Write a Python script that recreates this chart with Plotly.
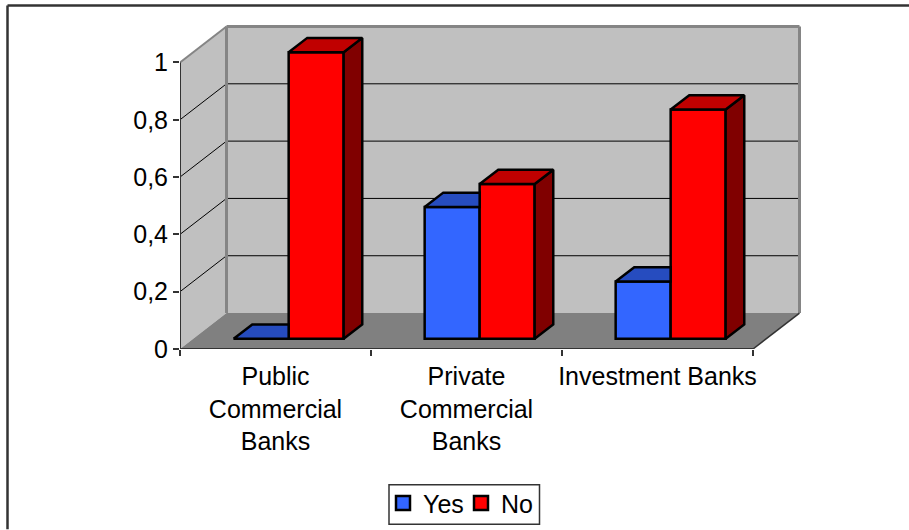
import plotly.graph_objects as go

categories = ["Public<br>Commercial<br>Banks", "Private<br>Commercial<br>Banks", "Investment Banks"]
yes_values = [0.0, 0.46, 0.2]
no_values = [1.0, 0.54, 0.8]
y_ticks = [0, 0.2, 0.4, 0.6, 0.8, 1]

W, H = 909, 530
L, R, T, B = 180, 810, 20, 349.5
PX_CAT, PX_VAL = 191.0, 287.0
DX, DY = 46.5 / PX_CAT, 36.0 / PX_VAL      # depth vector of the 3D box
D0, D1 = 0.283, 0.683                      # bar front/back position in depth
BAR_W = 55.0 / PX_CAT
N = len(categories)
FONT = "Liberation Sans, Arial, sans-serif"
FS = 25


def P(x, y, d=0.0):
    return x + d * DX, y + d * DY


def poly(pts):
    return "M" + " L".join(f"{a},{b}" for a, b in pts) + " Z"


def seg(p, q, color, width):
    return dict(type="line", x0=p[0], y0=p[1], x1=q[0], y1=q[1],
                line=dict(color=color, width=width), layer="below")


def px(xp):
    return (xp - L) / (R - L)


def py(yp):
    return (B - yp) / (B - T)


WALL, FLOOR, EDGE = "#C0C0C0", "#808080", "#858585"
shapes = [
    dict(type="path", path=poly([P(0, 0), P(0, 1), P(0, 1, 1), P(0, 0, 1)]),
         fillcolor=WALL, line_width=0, layer="below"),
    dict(type="path", path=poly([P(0, 0, 1), P(0, 1, 1), P(N, 1, 1), P(N, 0, 1)]),
         fillcolor=WALL, line_width=0, layer="below"),
    dict(type="path", path=poly([P(0, 0), P(N, 0), P(N, 0, 1), P(0, 0, 1)]),
         fillcolor=FLOOR, line_width=0, layer="below"),
]
for v in y_ticks[1:-1]:
    shapes.append(seg(P(0, v), P(0, v, 1), "#000000", 1))
    shapes.append(seg(P(0, v, 1), P(N, v, 1), "#000000", 1))
shapes += [
    seg(P(0, 0, 1), P(0, 1, 1), EDGE, 3),
    seg(P(0, 1, 1), P(N, 1, 1), EDGE, 3),
    seg(P(N, 0, 1), P(N, 1, 1), EDGE, 3),
    seg(P(0, 1), P(0, 1, 1), EDGE, 2),
]
# chart-area frame: only top and left edges are visible
frame = dict(color="#333333", width=2.5)
shapes.append(dict(type="line", xref="paper", yref="paper", x0=px(7.5), x1=px(909),
                   y0=py(5.5), y1=py(5.5), line=frame))
shapes.append(dict(type="line", xref="paper", yref="paper", x0=px(7.5), x1=px(7.5),
                   y0=py(5.5), y1=py(530), line=frame))
# legend box
shapes.append(dict(type="rect", xref="paper", yref="paper", x0=px(389), x1=px(539.5),
                   y0=py(525), y1=py(485.5), line=dict(color="#333333", width=1.5),
                   fillcolor="#FFFFFF", layer="below"))

fig = go.Figure()
centers = [i + 0.5 + D0 * DX for i in range(N)]
lift = D0 * DY
BLK = dict(color="#000000", width=2.5)

fig.add_trace(go.Bar(name="Yes", x=[c - BAR_W / 2 for c in centers], y=yes_values,
                     base=[lift] * N, width=BAR_W, showlegend=False,
                     marker=dict(color="#3366FF", line=BLK), hoverinfo="skip"))
fig.add_trace(go.Bar(name="No", x=[c + BAR_W / 2 for c in centers], y=no_values,
                     base=[lift] * N, width=BAR_W, showlegend=False,
                     marker=dict(color="#FF0000", line=BLK), hoverinfo="skip"))


def face(pts, color):
    xs = [p[0] for p in pts] + [pts[0][0]]
    ys = [p[1] for p in pts] + [pts[0][1]]
    fig.add_trace(go.Scatter(x=xs, y=ys, mode="lines", fill="toself", fillcolor=color,
                             line=dict(color="#000000", width=2.5), showlegend=False,
                             hoverinfo="skip"))


dd = D1 - D0
for c, y, n in zip(centers, yes_values, no_values):
    # Yes top, cut where the neighbouring No front hides it
    h = lift + y
    fl = (c - BAR_W, h)
    fr = (c, h)
    bl = (fl[0] + dd * DX, h + dd * DY)
    face([fl, fr, (c, bl[1]), bl], "#264CBF")
    # No side and top
    t = lift + n
    a, b = c, c + BAR_W
    face([(b, lift), (b, t), (b + dd * DX, t + dd * DY), (b + dd * DX, lift + dd * DY)], "#800000")
    face([(a, t), (b, t), (b + dd * DX, t + dd * DY), (a + dd * DX, t + dd * DY)], "#C00000")


def edge(p, q, color="#333333", width=2):
    fig.add_trace(go.Scatter(x=[p[0], q[0]], y=[p[1], q[1]], mode="lines", cliponaxis=False,
                             line=dict(color=color, width=width), showlegend=False,
                             hoverinfo="skip"))


edge(P(0, 0), P(0, 1))
edge(P(0, 0), P(N, 0))
edge(P(N, 0), P(N, 0, 1), "#333333", 1.5)

# legend keys
for name, col in [("Yes", "#3366FF"), ("No", "#FF0000")]:
    fig.add_trace(go.Scatter(name=name, x=[None], y=[None], mode="markers",
                             marker=dict(symbol="square", size=14, color=col,
                                         line=dict(color="#000000", width=2.5))))

fig.update_layout(
    width=W, height=H, autosize=False,
    margin=dict(l=L, r=W - R, t=T, b=H - B, pad=0, autoexpand=False),
    paper_bgcolor="#FFFFFF", plot_bgcolor="rgba(0,0,0,0)",
    separators=", ",
    barmode="overlay",
    font=dict(family=FONT, size=FS, color="#000000"),
    shapes=shapes,
    showlegend=True,
    legend=dict(orientation="h", xref="paper", yref="paper",
                x=px(383), xanchor="left", y=py(481), yanchor="top",
                bgcolor="rgba(0,0,0,0)", borderwidth=0,
                font=dict(family=FONT, size=FS), itemwidth=30, traceorder="normal",
                itemsizing="trace", entrywidth=33, entrywidthmode="pixels"),
    xaxis=dict(range=[0, (R - L) / PX_CAT], tickmode="array", automargin=False,
               tickvals=[i + 0.5 for i in range(N)], ticktext=categories,
               ticks="", showgrid=False, zeroline=False, showline=False, ticklabelstandoff=10,
               tickangle=0, tickfont=dict(family=FONT, size=FS),
               minor=dict(tickmode="array", tickvals=list(range(N + 1)), ticks="outside",
                          ticklen=6, tickwidth=1.5, tickcolor="#333333", showgrid=False)),
    yaxis=dict(range=[0, (B - T) / PX_VAL], tickmode="array", tickvals=y_ticks, automargin=False,
               ticks="outside", ticklen=6, tickwidth=1.5, tickcolor="#333333",
               showgrid=False, zeroline=False, showline=False,
               tickfont=dict(family=FONT, size=FS)),
)

fig.write_html("out.html", config={"displayModeBar": False},
               post_script="document.body.style.margin='0';")
